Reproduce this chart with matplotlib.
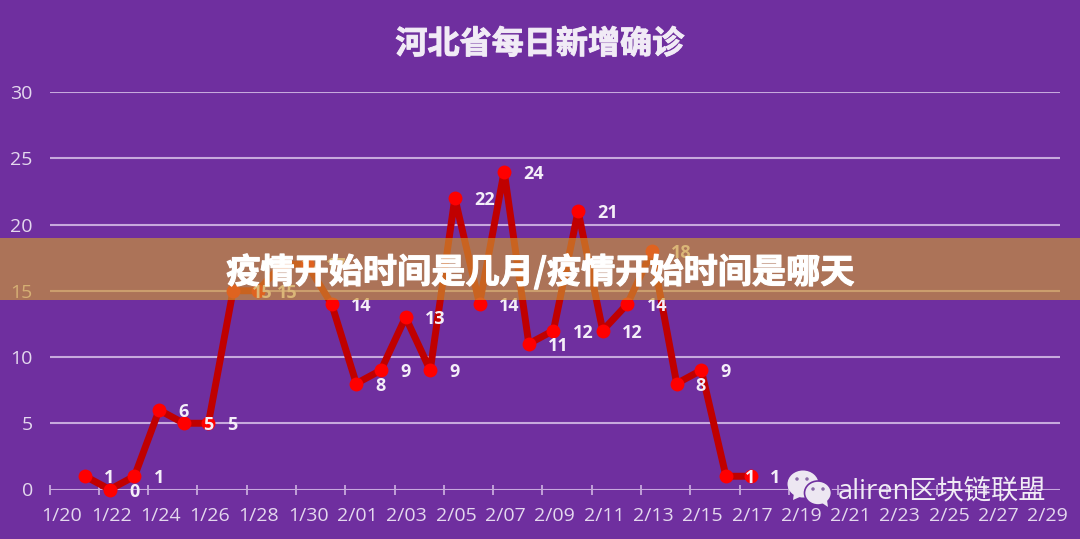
import matplotlib
matplotlib.use('Agg')
import matplotlib.pyplot as plt
import matplotlib.patheffects as pe
from matplotlib.patches import Ellipse, Polygon, Rectangle
from matplotlib.transforms import ScaledTranslation
import pandas as pd

plt.rcParams['font.family'] = ['Open Sans', 'Noto Sans CJK SC', 'DejaVu Sans']

# every day on the category axis, 1/20 to 2/29
days = pd.date_range('2020-01-20', '2020-02-29')
day_labels = [f'{d.month}/{d.day:02d}' for d in days]

# daily cases start on 1/21; 1/29 and 1/30 sit behind the banner, so estimated
cases = [1, 0, 1, 6, 5, 5, 15, 15, 17, 17, 14, 8, 9, 13, 9, 22, 14, 24, 11, 12,
         21, 12, 14, 18, 8, 9, 1, 1]
case_x = list(range(1, len(cases) + 1))
y_ticks = [0, 5, 10, 15, 20, 25, 30]

title = '河北省每日新增确诊'
banner_text = '疫情开始时间是几月/疫情开始时间是哪天'
watermark = 'aliren区块链联盟'

BG = '#6F2F9F'
GRID = '#C7A9DD'
TICK_TEXT = '#E4D8EE'
W, H = 1080, 539

fig = plt.figure(figsize=(W / 100, H / 100), dpi=100, facecolor=BG)
ax = fig.add_axes([49.5 / W, (H - 489.5) / H, 1010.5 / W, 397.5 / H], facecolor=BG)
ax.set_xlim(-0.5, 40.5)
ax.set_ylim(0, 30)
for s in ax.spines.values():
    s.set_visible(False)

ax.set_yticks(y_ticks)
ax.grid(axis='y', color=GRID, lw=1.5, zorder=1)
ax.tick_params(axis='y', length=0, pad=12, labelsize=14, labelcolor=TICK_TEXT)

# labels in the middle of a band, tick marks on the band edges
ax.set_xticks(range(0, 41, 2))
ax.set_xticklabels(day_labels[::2])
ax.tick_params(axis='x', which='major', length=0, pad=12.5, labelsize=14, labelcolor=TICK_TEXT)
ax.set_xticks([i - 0.5 for i in range(0, 41, 2)], minor=True)
ax.tick_params(axis='x', which='minor', length=7, width=1.3, color=GRID, direction='inout')

# the points sit about a pixel left of the band centres in the reference
shift = ax.transData + ScaledTranslation(-1.3 / 100, 0, fig.dpi_scale_trans)
ax.plot(case_x, cases, color='#C00000', lw=5, solid_joinstyle='round', zorder=3,
        clip_on=False, transform=shift)
ax.plot(case_x, cases, ls='none', marker='o', ms=10, color='#FF0000', mew=0, zorder=4,
        clip_on=False, transform=shift)
for x, v in zip(case_x, cases):
    ax.annotate(str(v), (x, v), xytext=(12.8, -1.5), textcoords='offset points',
                ha='left', va='center', fontsize=13, fontweight='bold',
                color='#F4EEF8', zorder=5)

title_text = fig.text(540 / W, 1 - 44 / H, title, ha='center', va='center', fontsize=23.1,
                      fontweight='bold', color='#F1EBF6', family=['Noto Sans CJK SC', 'DejaVu Sans'])
title_text.set_path_effects([pe.withStroke(linewidth=0.7, foreground='#F1EBF6')])

# overlay in pixel coordinates for the banner and the watermark
top = fig.add_axes([0, 0, 1, 1], facecolor='none')
top.set_xlim(0, W)
top.set_ylim(H, 0)
top.axis('off')
top.add_patch(Rectangle((0, 238), W, 62, color='#CE9932', alpha=0.65, lw=0))
banner = top.text(540, 272, banner_text, ha='center', va='center', fontsize=24.6,
                  fontweight='bold', color='white', family=['Noto Sans CJK SC', 'DejaVu Sans'])
banner.set_path_effects([pe.withStroke(linewidth=0.8, foreground='white')])

ICON = '#EDE7F2'
top.add_patch(Ellipse((803, 484), 31, 27, color=ICON, lw=0))
top.add_patch(Polygon([(794, 493), (793, 500), (802, 496)], color=ICON, lw=0))
top.add_patch(Ellipse((818, 493), 27, 24, fc=ICON, ec=BG, lw=1.2))
top.add_patch(Polygon([(822, 503), (828, 507), (827, 500)], color=ICON, lw=0))
for ex, ey in [(797, 479), (807, 479), (813, 489), (823, 489)]:
    top.add_patch(Ellipse((ex, ey), 3.5, 3.5, color='#8A6AA8', lw=0))
top.text(838, 491, watermark, ha='left', va='center', fontsize=19.6, color='#F1ECF5')

fig.savefig('out.png', dpi=100, facecolor=BG)
